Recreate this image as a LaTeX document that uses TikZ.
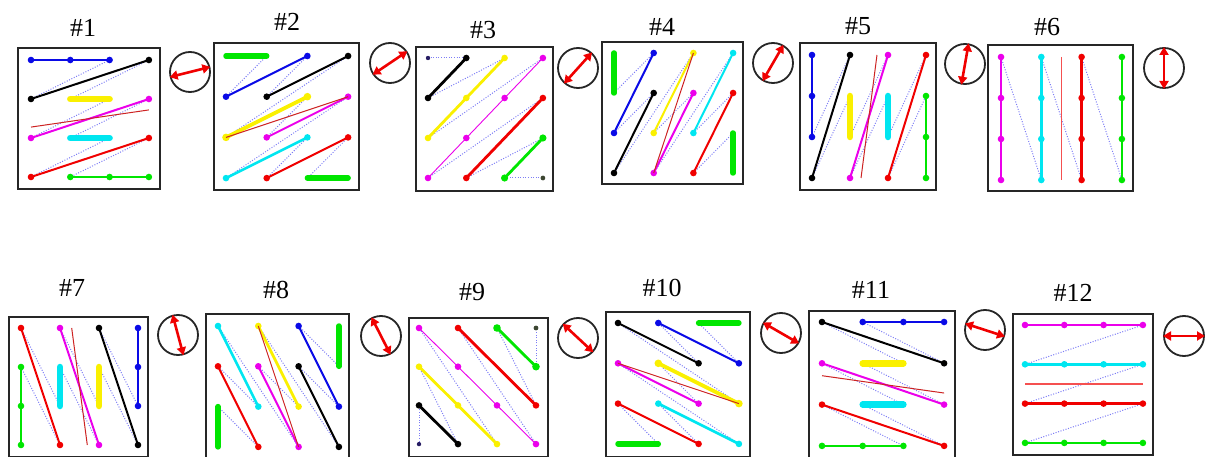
\documentclass[tikz,border=0pt]{standalone}
\usepackage{fontspec}
\setmainfont{Liberation Serif}
\usetikzlibrary{arrows.meta}
\definecolor{cblue}{RGB}{10,10,230}
\definecolor{cyel}{RGB}{250,240,0}
\definecolor{cmag}{RGB}{235,0,235}
\definecolor{ccyan}{RGB}{0,230,240}
\definecolor{cred}{RGB}{240,0,0}
\definecolor{cgreen}{RGB}{0,230,0}
\definecolor{cnavy}{RGB}{40,30,100}
\definecolor{cdark}{RGB}{60,70,50}
\definecolor{cdot}{RGB}{125,125,245}
\definecolor{cavg}{RGB}{205,35,35}
\definecolor{cavgl}{RGB}{245,80,80}
\newcommand\pts[3][3.3pt]{\foreach \px/\py in {#3} \fill[#2] (\px,\py) circle (#1);}
\tikzset{
 ln/.style={line width=2pt, line cap=round},
 lnb/.style={line width=2.8pt, line cap=round},
 thk/.style={line width=6.5pt, line cap=round},
 scan/.style={draw=cdot, line width=1pt, dash pattern=on 1pt off 1.6pt},
 avg/.style={draw=cavg, line width=1pt},
 avgl/.style={draw=cavgl, line width=1.4pt},
 frame/.style={draw=black!85, line width=2pt},
 dial/.style={circle, draw=black!85, line width=1.8pt, minimum size=40pt, inner sep=0pt},
 dir/.style={draw=cred, line width=2.6pt, {Triangle[length=8pt,width=9pt]}-{Triangle[length=8pt,width=9pt]}},
 lbl/.style={font=\fontsize{26}{28}\selectfont, inner sep=0pt},
}
\newcommand\dialarrow[2]{\draw[dir] ([shift={(#2:21pt)}]#1.center) -- ([shift={(#2+180:21pt)}]#1.center);}
\begin{document}
\begin{tikzpicture}[x=1pt,y=-1pt]
\useasboundingbox (0,0) rectangle (1207,457);

% ---------- labels ----------
\node[lbl] (l1) at (83,28) {\#1};
\node[lbl] (l2) at (287,22) {\#2};
\node[lbl] (l3) at (483,30) {\#3};
\node[lbl] (l4) at (662,27) {\#4};
\node[lbl] (l5) at (858,26) {\#5};
\node[lbl] (l6) at (1047,27) {\#6};
\node[lbl] (l7) at (72,288) {\#7};
\node[lbl] (l8) at (276,290) {\#8};
\node[lbl] (l9) at (472,292) {\#9};
\node[lbl] (l10) at (662,288) {\#10};
\node[lbl] (l11) at (871,290) {\#11};
\node[lbl] (l12) at (1073,293) {\#12};

% ---------- frames ----------
\draw[frame] (18,48) rectangle (160,189);
\draw[frame] (214,43) rectangle (359,190);
\draw[frame] (416,47) rectangle (553,191);
\draw[frame] (602,42) rectangle (743,184);
\draw[frame] (800,43) rectangle (936,190);
\draw[frame] (988,45) rectangle (1133,191);
\draw[frame] (9,317) rectangle (148,457);
\draw[frame] (206,314) rectangle (349,459);
\draw[frame] (409,318) rectangle (548,457);
\draw[frame] (606,312) rectangle (750,457);
\draw[frame] (809,311) rectangle (955,458);
\draw[frame] (1013,314) rectangle (1153,455);

% ---------- dials ----------
\node[dial] (c1) at (190,72) {};   \dialarrow{c1}{14}
\node[dial] (c2) at (390,63) {};   \dialarrow{c2}{34}
\node[dial] (c3) at (578,68) {};   \dialarrow{c3}{48}
\node[dial] (c4) at (773,63) {};   \dialarrow{c4}{60}
\node[dial] (c5) at (965,64) {};   \dialarrow{c5}{80}
\node[dial] (c6) at (1164,68) {};  \dialarrow{c6}{90}
\node[dial] (c7) at (178,335) {};  \dialarrow{c7}{105}
\node[dial] (c8) at (381,336) {};  \dialarrow{c8}{117}
\node[dial] (c9) at (578,338) {};  \dialarrow{c9}{137}
\node[dial] (c10) at (781,333) {}; \dialarrow{c10}{150}
\node[dial] (c11) at (985,330) {}; \dialarrow{c11}{162}
\node[dial] (c12) at (1184,336) {};\dialarrow{c12}{180}

% ---------- panel 1 ----------
\begin{scope}[shift={(31,60)},x=39.3pt,y=-39pt]
\draw[scan] (2,0)--(0,1); \draw[scan] (3,0)--(1,1); \draw[scan] (2,1)--(0,2);
\draw[scan] (3,1)--(1,2); \draw[scan] (2,2)--(0,3); \draw[scan] (3,2)--(1,3);
\draw[ln,cblue,line width=1.6pt] (0,0)--(2,0); \pts{cblue}{0/0,1/0,2/0}
\draw[ln,black] (0,1)--(3,0); \pts{black}{0/1,3/0}
\draw[thk,cyel] (1,1)--(2,1);
\draw[ln,cmag] (0,2)--(3,1); \pts{cmag}{0/2,3/1}
\draw[thk,ccyan] (1,2)--(2,2);
\draw[ln,cred] (0,3)--(3,2); \pts{cred}{0/3,3/2}
\draw[ln,cgreen] (1,3)--(3,3); \pts{cgreen}{1/3,2/3,3/3}
\draw[avg] (0,1.72)--(3,1.28);
\end{scope}

% ---------- panel 2 ----------
\begin{scope}[shift={(226,56)},x=40.7pt,y=-40.7pt]
\draw[scan] (1,0)--(0,1); \draw[scan] (2,0)--(1,1); \draw[scan] (3,0)--(0,2);
\draw[scan] (2,1)--(1,2); \draw[scan] (3,1)--(0,3); \draw[scan] (2,2)--(1,3);
\draw[scan] (3,2)--(2,3);
\draw[thk,cgreen,line width=5.5pt] (0,0)--(1,0);
\draw[ln,cblue] (0,1)--(2,0); \pts{cblue}{0/1,2/0}
\draw[ln,black] (1,1)--(3,0); \pts{black}{1/1,3/0}
\draw[ln,cyel,line width=3.8pt] (0,2)--(2,1); \pts[3.8pt]{cyel}{0/2,2/1}
\draw[ln,cmag] (1,2)--(3,1); \pts{cmag}{1/2,3/1}
\draw[ln,ccyan,line width=2.6pt] (0,3)--(2,2); \pts{ccyan}{0/3,2/2}
\draw[ln,cred] (1,3)--(3,2); \pts{cred}{1/3,3/2}
\draw[thk,cgreen,line width=5.5pt] (2,3)--(3,3);
\draw[avg] (0,2)--(3,1);
\end{scope}

% ---------- panel 3 ----------
\begin{scope}[shift={(428,58)},x=38.3pt,y=-40pt]
\draw[scan] (0,0)--(1,0); \draw[scan] (0,1)--(2,0); \draw[scan] (0,2)--(3,0);
\draw[scan] (0,3)--(3,1); \draw[scan] (1,3)--(3,2); \draw[scan] (2,3)--(3,3);
\pts[2.2pt]{cnavy}{0/0}
\draw[lnb,black] (0,1)--(1,0); \pts{black}{0/1,1/0}
\draw[lnb,cyel] (0,2)--(2,0); \pts{cyel}{0/2,1/1,2/0}
\draw[cmag,line width=0.9pt] (0,3)--(3,0); \pts{cmag}{0/3,1/2,2/1,3/0}
\draw[lnb,cred] (1,3)--(3,1); \pts{cred}{1/3,3/1}
\draw[lnb,cgreen] (2,3)--(3,2); \pts[3.6pt]{cgreen}{2/3,3/2}
\pts[2.4pt]{cdark}{3/3}
\end{scope}

% ---------- panel 4 ----------
\begin{scope}[shift={(614,53)},x=39.7pt,y=-40pt]
\draw[scan] (0,1)--(1,0); \draw[scan] (0,2)--(1,1); \draw[scan] (0,3)--(2,0);
\draw[scan] (1,2)--(2,1); \draw[scan] (1,3)--(3,0); \draw[scan] (2,2)--(3,1);
\draw[scan] (2,3)--(3,2);
\draw[thk,cgreen,line width=5.5pt] (0,0)--(0,1);
\draw[ln,cblue] (0,2)--(1,0); \pts{cblue}{0/2,1/0}
\draw[ln,black] (0,3)--(1,1); \pts{black}{0/3,1/1}
\draw[ln,cyel] (1,2)--(2,0); \pts{cyel}{1/2,2/0}
\draw[ln,cmag] (1,3)--(2,1); \pts{cmag}{1/3,2/1}
\draw[ln,ccyan] (2,2)--(3,0); \pts{ccyan}{2/2,3/0}
\draw[ln,cred] (2,3)--(3,1); \pts{cred}{2/3,3/1}
\draw[thk,cgreen,line width=5.5pt] (3,2)--(3,3);
\draw[avg] (1,3)--(2,0);
\end{scope}

% ---------- panel 5 ----------
\begin{scope}[shift={(812,55)},x=38pt,y=-41pt]
\draw[scan] (0,2)--(1,0); \draw[scan] (0,3)--(1,1); \draw[scan] (1,2)--(2,0);
\draw[scan] (1,3)--(2,1); \draw[scan] (2,2)--(3,0); \draw[scan] (2,3)--(3,1);
\draw[lnb,cblue] (0,0)--(0,2); \pts{cblue}{0/0,0/1,0/2}
\draw[ln,black] (0,3)--(1,0); \pts{black}{0/3,1/0}
\draw[thk,cyel] (1,1)--(1,2);
\draw[ln,cmag] (1,3)--(2,0); \pts{cmag}{1/3,2/0}
\draw[thk,ccyan] (2,1)--(2,2);
\draw[ln,cred] (2,3)--(3,0); \pts{cred}{2/3,3/0}
\draw[lnb,cgreen] (3,1)--(3,3); \pts{cgreen}{3/1,3/2,3/3}
\draw[avg] (1.71,0)--(1.29,3);
\end{scope}

% ---------- panel 6 ----------
\begin{scope}[shift={(1001,57)},x=40.3pt,y=-41pt]
\draw[scan] (0,0)--(1,3); \draw[scan] (1,0)--(2,3); \draw[scan] (2,0)--(3,3);
\draw[lnb,cmag] (0,0)--(0,3); \pts{cmag}{0/0,0/1,0/2,0/3}
\draw[lnb,ccyan] (1,0)--(1,3); \pts{ccyan}{1/0,1/1,1/2,1/3}
\draw[lnb,cred] (2,0)--(2,3); \pts{cred}{2/0,2/1,2/2,2/3}
\draw[lnb,cgreen] (3,0)--(3,3); \pts{cgreen}{3/0,3/1,3/2,3/3}
\draw[avgl] (1.5,0)--(1.5,3);
\end{scope}

% ---------- panel 7 ----------
\begin{scope}[shift={(21,328)},x=39pt,y=-39pt]
\draw[scan] (0,0)--(1,2); \draw[scan] (0,1)--(1,3); \draw[scan] (1,0)--(2,2);
\draw[scan] (1,1)--(2,3); \draw[scan] (2,0)--(3,2); \draw[scan] (2,1)--(3,3);
\draw[ln,cred] (0,0)--(1,3); \pts{cred}{0/0,1/3}
\draw[ln,cmag] (1,0)--(2,3); \pts{cmag}{1/0,2/3}
\draw[ln,black] (2,0)--(3,3); \pts{black}{2/0,3/3}
\draw[lnb,cblue] (3,0)--(3,2); \pts{cblue}{3/0,3/1,3/2}
\draw[lnb,cgreen] (0,1)--(0,3); \pts{cgreen}{0/1,0/2,0/3}
\draw[thk,ccyan] (1,1)--(1,2);
\draw[thk,cyel] (2,1)--(2,2);
\draw[avg] (1.3,0)--(1.7,3);
\end{scope}

% ---------- panel 8 ----------
\begin{scope}[shift={(218,326)},x=40.3pt,y=-40.3pt]
\draw[scan] (0,2)--(1,3); \draw[scan] (0,1)--(1,2); \draw[scan] (0,0)--(2,3);
\draw[scan] (1,1)--(2,2); \draw[scan] (1,0)--(3,3); \draw[scan] (2,1)--(3,2);
\draw[scan] (2,0)--(3,1);
\draw[ln,ccyan,line width=2.6pt] (0,0)--(1,2); \pts{ccyan}{0/0,1/2}
\draw[ln,cyel,line width=2.8pt] (1,0)--(2,2); \pts{cyel}{1/0,2/2}
\draw[ln,cblue] (2,0)--(3,2); \pts{cblue}{2/0,3/2}
\draw[thk,cgreen,line width=5.5pt] (3,0)--(3,1);
\draw[ln,cred] (0,1)--(1,3); \pts{cred}{0/1,1/3}
\draw[ln,cmag] (1,1)--(2,3); \pts{cmag}{1/1,2/3}
\draw[ln,black] (2,1)--(3,3); \pts{black}{2/1,3/3}
\draw[thk,cgreen,line width=5.5pt] (0,2)--(0,3);
\draw[avg] (1,0)--(2,3);
\end{scope}

% ---------- panel 9 ----------
\begin{scope}[shift={(419,328)},x=39pt,y=-38.7pt]
\draw[scan] (0,3)--(0,2); \draw[scan] (1,3)--(0,1); \draw[scan] (2,3)--(0,0);
\draw[scan] (3,3)--(1,0); \draw[scan] (3,2)--(2,0); \draw[scan] (3,1)--(3,0);
\pts[2.2pt]{cnavy}{0/3}
\draw[lnb,black] (0,2)--(1,3); \pts{black}{0/2,1/3}
\draw[lnb,cyel] (0,1)--(2,3); \pts{cyel}{0/1,1/2,2/3}
\draw[cmag,line width=0.9pt] (0,0)--(3,3); \pts{cmag}{0/0,1/1,2/2,3/3}
\draw[lnb,cred] (1,0)--(3,2); \pts{cred}{1/0,3/2}
\draw[lnb,cgreen] (2,0)--(3,1); \pts[3.8pt]{cgreen}{2/0,3/1}
\pts[2.4pt]{cdark}{3/0}
\end{scope}

% ---------- panel 10 ----------
\begin{scope}[shift={(618,323)},x=40.3pt,y=-40.3pt]
\draw[scan] (1,3)--(0,2); \draw[scan] (2,3)--(1,2); \draw[scan] (3,3)--(0,1);
\draw[scan] (2,2)--(1,1); \draw[scan] (3,2)--(0,0); \draw[scan] (2,1)--(1,0);
\draw[scan] (3,1)--(2,0);
\draw[ln,black] (0,0)--(2,1); \pts{black}{0/0,2/1}
\draw[ln,cblue] (1,0)--(3,1); \pts{cblue}{1/0,3/1}
\draw[thk,cgreen,line width=5.5pt] (2,0)--(3,0);
\draw[ln,cmag] (0,1)--(2,2); \pts{cmag}{0/1,2/2}
\draw[ln,cyel,line width=3.8pt] (1,1)--(3,2); \pts[3.8pt]{cyel}{1/1,3/2}
\draw[ln,cred] (0,2)--(2,3); \pts{cred}{0/2,2/3}
\draw[ln,ccyan,line width=2.6pt] (1,2)--(3,3); \pts{ccyan}{1/2,3/3}
\draw[thk,cgreen,line width=5.5pt] (0,3)--(1,3);
\draw[avg] (0,1)--(3,2);
\end{scope}

% ---------- panel 11 ----------
\begin{scope}[shift={(822,322)},x=40.7pt,y=-41.3pt]
\draw[scan] (0,0)--(2,1); \draw[scan] (1,0)--(3,1); \draw[scan] (0,1)--(2,2);
\draw[scan] (1,1)--(3,2); \draw[scan] (0,2)--(2,3); \draw[scan] (1,2)--(3,3);
\draw[ln,cblue,line width=1.6pt] (1,0)--(3,0); \pts{cblue}{1/0,2/0,3/0}
\draw[ln,black] (0,0)--(3,1); \pts{black}{0/0,3/1}
\draw[thk,cyel] (1,1)--(2,1);
\draw[ln,cmag] (0,1)--(3,2); \pts{cmag}{0/1,3/2}
\draw[thk,ccyan] (1,2)--(2,2);
\draw[ln,cred] (0,2)--(3,3); \pts{cred}{0/2,3/3}
\draw[ln,cgreen] (0,3)--(2,3); \pts{cgreen}{0/3,1/3,2/3}
\draw[avg] (0,1.3)--(3,1.72);
\end{scope}

% ---------- panel 12 ----------
\begin{scope}[shift={(1025,325)},x=39.3pt,y=-39.3pt]
\draw[scan] (3,0)--(0,1); \draw[scan] (3,1)--(0,2); \draw[scan] (3,2)--(0,3);
\draw[ln,cmag] (0,0)--(3,0); \pts{cmag}{0/0,1/0,2/0,3/0}
\draw[lnb,ccyan] (0,1)--(3,1); \pts{ccyan}{0/1,1/1,2/1,3/1}
\draw[lnb,cred] (0,2)--(3,2); \pts{cred}{0/2,1/2,2/2,3/2}
\draw[lnb,cgreen] (0,3)--(3,3); \pts{cgreen}{0/3,1/3,2/3,3/3}
\draw[avgl] (0,1.5)--(3,1.5);
\end{scope}
\end{tikzpicture}
\end{document}
